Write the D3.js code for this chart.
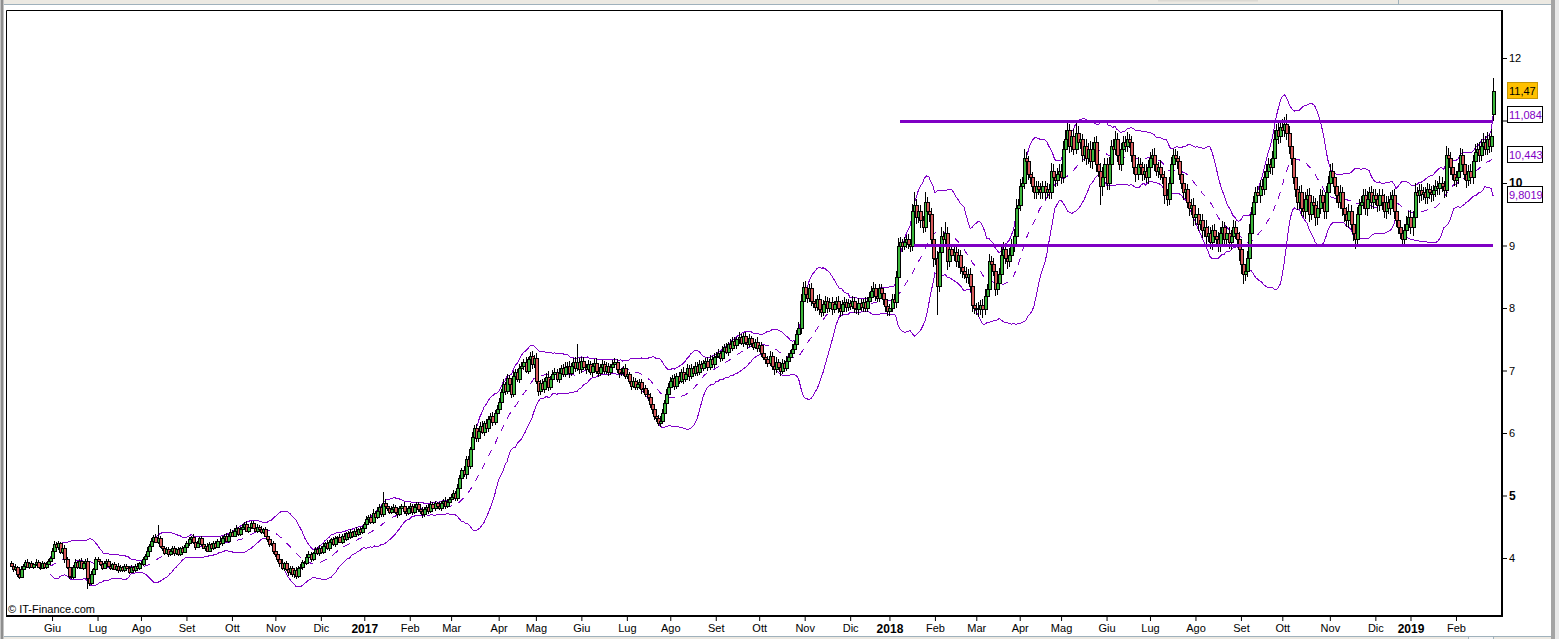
<!DOCTYPE html>
<html><head><meta charset="utf-8">
<script src="https://cdn.jsdelivr.net/npm/d3@7"></script>
<style>
html,body{margin:0;padding:0;background:#fff;overflow:hidden;}
svg{display:block;font-family:"Liberation Sans",Arial,sans-serif;}
</style></head><body>
<svg id="c" width="1559" height="639"></svg>
<script>
// ---------------- DATA ----------------
const startDate = "2016-05-04", endDate = "2019-02-27";
const holidays = ["2016-08-15","2016-12-26","2017-04-14","2017-04-17","2017-05-01","2017-08-15","2017-12-25","2017-12-26",
  "2018-01-01","2018-03-30","2018-04-02","2018-05-01","2018-08-15","2018-12-24","2018-12-25","2018-12-26","2018-12-31","2019-01-01"];
const monthNames = ["Gen","Feb","Mar","Apr","Mag","Giu","Lug","Ago","Set","Ott","Nov","Dic"];

// daily closes (one row per month)
const closes = [
3.88,3.82,3.86,3.74,3.70,3.82,3.88,3.94,3.86,3.92,3.86,3.90,3.94,3.86,3.84,3.92,3.86,3.90,3.95,4.00,
4.12,4.22,4.18,4.24,4.10,4.16,3.98,3.86,3.72,3.70,3.86,3.94,3.86,3.95,3.84,3.92,3.96,3.68,3.60,3.74,3.82,3.98,
3.96,3.90,3.84,3.92,3.96,3.88,3.84,3.90,3.82,3.88,3.80,3.86,3.80,3.88,3.84,3.78,3.86,3.80,3.88,3.84,3.92,
3.90,3.98,4.04,4.12,4.20,4.28,4.34,4.26,4.32,4.20,4.16,4.08,4.14,4.06,4.12,4.16,4.08,4.14,4.06,4.16,4.10,4.18,
4.24,4.30,4.34,4.26,4.18,4.24,4.32,4.22,4.16,4.20,4.12,4.22,4.16,4.24,4.18,4.28,4.24,4.32,4.36,4.28,4.36,4.42,
4.36,4.44,4.48,4.38,4.46,4.50,4.54,4.44,4.50,4.56,4.48,4.44,4.50,4.46,4.42,4.46,4.36,4.30,4.22,4.24,4.12,
4.06,3.98,3.92,3.84,3.92,3.82,3.78,3.84,3.74,3.80,3.72,3.84,3.86,3.94,3.92,4.02,4.06,3.98,4.08,4.14,4.08,4.16,
4.10,4.20,4.24,4.16,4.26,4.30,4.22,4.32,4.34,4.26,4.36,4.30,4.40,4.34,4.42,4.36,4.44,4.38,4.46,4.42,4.48,
4.54,4.62,4.66,4.58,4.72,4.66,4.76,4.82,4.70,4.88,4.84,4.80,4.74,4.78,4.82,4.74,4.70,4.80,4.84,4.76,4.72,4.80,
4.84,4.74,4.82,4.86,4.78,4.76,4.70,4.78,4.82,4.76,4.86,4.80,4.88,4.84,4.80,4.88,4.92,4.84,4.90,4.94,
4.98,5.04,4.96,5.12,5.28,5.40,5.34,5.58,5.48,5.74,5.94,6.08,5.92,6.04,6.12,6.02,6.16,6.08,6.22,6.28,6.18,6.32,6.38,
6.50,6.66,6.78,6.68,6.88,6.78,6.62,6.92,6.98,6.86,7.04,7.08,7.14,7.00,7.18,7.24,7.10,7.20,
6.84,6.68,6.80,6.70,6.84,6.90,6.74,6.86,6.94,6.98,6.86,6.96,7.04,6.94,7.06,7.08,6.96,7.08,7.14,7.04,7.14,7.02,
7.16,7.06,7.02,7.10,6.98,7.08,7.12,7.00,6.96,7.06,7.10,7.00,7.08,6.98,7.06,7.10,7.14,7.02,6.96,6.98,7.04,6.92,
6.94,6.84,6.76,6.84,6.74,6.78,6.82,6.70,6.72,6.62,6.58,6.46,6.38,6.28,6.24,6.16,6.20,6.32,6.48,6.62,6.74,
6.84,6.88,6.76,6.92,6.84,6.98,6.86,6.94,7.04,6.92,7.04,6.96,7.08,6.98,7.10,7.04,7.12,7.16,7.06,7.18,7.10,7.22,
7.24,7.28,7.20,7.32,7.38,7.30,7.42,7.36,7.48,7.40,7.50,7.54,7.44,7.56,7.46,7.42,7.52,7.44,7.38,7.46,7.36,
7.40,7.28,7.22,7.18,7.12,7.24,7.08,7.02,7.14,7.06,7.00,7.12,7.04,7.16,7.22,7.28,7.34,7.42,7.58,7.68,8.12,8.34,
8.22,8.16,8.32,8.12,8.08,8.02,8.14,7.98,7.94,8.06,8.12,8.00,8.10,7.98,8.06,8.12,8.00,7.96,8.06,8.10,8.02,8.08,
8.04,8.12,8.00,7.98,8.08,8.02,8.10,8.00,8.12,8.18,8.28,8.32,8.20,8.16,8.32,8.24,8.14,8.04,7.96,
8.00,8.15,8.10,8.50,9.00,9.05,9.00,9.05,9.10,9.02,9.00,9.55,9.65,9.45,9.55,9.40,9.30,9.70,9.55,9.50,9.10,8.80,
8.80,8.35,8.90,9.15,9.10,9.20,8.75,8.95,8.85,8.90,8.75,8.85,8.65,8.60,8.55,8.50,8.55,8.35,8.05,8.00,
8.00,7.98,8.05,7.98,8.20,8.30,8.75,8.70,8.60,8.30,8.40,8.55,8.85,8.95,8.80,8.75,8.85,9.00,9.15,9.60,9.65,
9.95,10.00,10.40,10.35,10.15,10.10,9.95,9.85,9.95,9.90,9.85,9.95,9.85,9.90,9.85,10.20,10.10,10.05,10.15,10.20,
10.10,10.55,10.70,10.85,10.60,10.75,10.55,10.80,10.65,10.70,10.45,10.60,10.40,10.55,10.35,10.55,10.65,10.30,10.20,9.95,10.10,10.30,
10.00,10.30,10.60,10.55,10.70,10.45,10.30,10.55,10.65,10.60,10.70,10.65,10.45,10.25,10.15,10.30,10.25,10.15,10.20,10.10,10.25,
10.40,10.45,10.30,10.20,10.25,10.15,10.10,9.80,9.75,10.00,10.30,10.45,10.40,10.35,10.15,10.00,9.85,9.90,9.70,9.60,9.65,9.45,
9.50,9.35,9.40,9.25,9.30,9.15,9.20,9.05,9.25,9.15,9.10,9.00,9.20,9.30,9.10,9.20,9.05,9.15,9.30,9.20,9.10,8.95,
8.70,8.55,8.60,8.80,9.20,9.50,9.70,9.85,9.80,9.95,9.90,10.10,10.20,10.30,10.25,10.40,10.70,10.85,10.75,10.90,
10.85,10.95,10.80,10.60,10.40,10.10,9.90,9.70,9.85,9.60,9.55,9.75,9.80,9.50,9.70,9.65,9.45,9.60,9.80,9.70,9.55,9.85,10.00,
10.20,10.10,9.95,9.80,9.70,9.85,9.60,9.50,9.40,9.55,9.35,9.20,9.10,9.50,9.65,9.70,9.80,9.60,9.75,9.85,9.70,9.80,
9.75,9.65,9.80,9.70,9.55,9.70,9.60,9.75,9.80,9.55,9.40,9.30,9.20,9.10,9.25,9.35,9.45,
9.30,9.45,9.85,9.80,9.88,9.82,9.85,9.78,9.90,9.85,9.82,9.88,9.95,9.92,10.00,9.95,9.88,10.45,10.40,10.25,10.15,10.05,
10.10,10.20,10.45,10.30,10.15,10.05,10.20,10.10,10.35,10.50,10.55,10.45,10.60,10.65,10.55,10.70,10.60,10.75,11.47
];
// opens that gap away from the previous close
const openOverrides = [["2019-02-27", 11.10]];
// upper shadow above body, in hundredths
const wickUp = [
3,2,4,2,3,5,2,3,4,2,3,2,4,3,2,3,2,4,3,2,
4,5,3,4,2,3,5,3,4,2,3,4,2,3,5,2,3,4,3,5,2,4,
3,2,4,3,2,3,4,2,3,2,4,3,2,3,2,4,3,2,3,4,2,
3,4,2,5,3,4,3,5,21,4,3,2,4,3,2,3,4,2,3,2,4,3,
4,3,2,5,3,4,2,3,5,2,4,3,2,4,3,2,5,3,2,4,3,4,
3,4,5,2,3,4,3,5,2,4,3,2,4,3,5,2,3,4,3,2,4,
5,4,3,6,2,4,5,3,4,2,5,3,4,3,2,4,5,3,2,4,3,5,
3,4,2,5,3,2,4,3,2,5,3,4,2,3,4,2,3,5,2,3,4,
4,5,3,4,6,3,5,4,3,17,6,4,3,5,4,3,5,4,3,6,4,3,
4,3,5,4,3,2,5,4,3,4,5,3,4,2,5,4,3,5,4,3,
4,5,3,6,5,4,8,5,6,4,7,5,6,4,5,7,4,6,5,4,6,5,7,
6,5,8,4,7,5,6,8,5,4,7,6,5,8,4,6,7,5,
8,6,5,7,4,6,9,5,7,6,4,8,5,6,7,5,8,4,6,7,28,6,
5,6,4,7,5,4,6,8,5,4,7,5,6,4,5,7,6,4,5,6,4,7,
5,4,6,5,4,7,5,4,6,5,7,6,5,8,6,5,7,6,5,8,6,
6,5,7,4,6,5,8,4,6,5,7,4,6,5,7,6,5,4,6,7,5,6,
5,6,4,7,5,6,4,8,5,6,4,7,5,4,6,5,7,4,6,5,7,
6,5,7,4,6,8,5,6,7,5,4,6,5,7,6,5,8,6,7,9,10,8,
9,7,6,8,5,7,6,8,5,6,7,5,6,8,5,6,7,5,6,8,5,6,
5,7,6,5,8,6,5,7,6,8,7,9,6,5,7,6,8,5,7,
6,8,7,10,12,8,6,9,7,8,6,12,20,9,8,10,7,15,8,9,10,8,
9,12,10,15,8,17,9,10,8,11,9,10,8,9,7,10,8,9,11,8,
8,10,7,9,11,8,12,9,10,8,11,9,12,10,8,9,11,10,12,15,10,
12,10,15,10,9,11,8,10,9,8,10,9,8,10,9,12,10,8,9,10,
10,12,15,12,10,9,11,20,12,10,9,11,10,9,12,10,9,11,10,12,15,10,
10,12,9,11,13,10,12,9,11,10,12,9,10,11,9,12,10,9,11,10,12,
10,9,11,10,8,12,10,9,11,10,12,9,10,11,9,10,12,9,8,10,9,11,
9,10,8,11,9,10,12,9,8,10,9,11,10,9,8,12,9,10,11,9,10,12,
12,10,9,11,15,12,10,9,11,10,12,9,11,10,9,12,15,10,12,11,
12,10,15,11,10,12,9,11,10,12,9,11,10,12,9,10,11,12,10,9,11,10,12,
10,12,9,11,10,12,9,10,11,12,9,10,11,12,10,9,11,10,12,9,10,11,
10,9,11,10,12,9,10,11,9,10,12,9,11,10,9,12,10,
12,10,15,9,11,10,9,8,10,9,11,8,10,9,12,10,9,15,11,10,12,9,
10,12,11,9,10,12,9,11,10,12,9,10,11,15,10,12,9,11,21
];
// lower shadow below body, in hundredths
const wickDown = [
2,4,3,5,3,2,3,4,2,3,2,4,3,2,3,2,3,4,2,3,
3,4,2,5,3,4,6,4,5,3,4,2,3,4,2,3,4,18,5,4,3,2,
2,3,4,2,3,2,4,3,2,3,4,2,3,2,4,3,2,3,2,4,3,
3,2,4,3,2,4,3,2,3,4,5,3,2,4,3,2,4,3,2,3,4,2,
3,4,2,3,5,2,4,3,2,4,3,2,5,3,4,2,3,4,2,3,4,3,
2,3,4,3,2,4,3,2,4,3,2,3,4,2,3,4,3,5,4,3,5,
4,5,6,4,5,3,6,5,4,6,5,4,3,5,4,3,4,5,3,4,3,4,
3,4,2,3,4,3,2,4,3,2,4,3,2,3,4,2,3,4,3,2,3,
4,3,5,4,3,5,4,6,5,4,3,5,4,3,5,4,6,3,4,5,4,3,
3,5,4,3,4,5,6,4,3,5,4,3,4,5,3,4,3,5,4,3,
4,3,5,4,6,5,4,7,5,6,8,5,7,6,5,4,6,5,7,4,6,5,4,
5,6,4,7,5,8,6,5,7,4,6,5,7,4,6,5,8,6,
6,8,7,5,6,4,7,5,6,8,5,6,7,5,4,6,8,5,7,6,5,8,
6,5,7,4,6,8,5,6,7,5,4,6,5,7,6,5,4,6,8,5,7,6,
6,5,7,4,6,5,7,8,6,5,7,6,8,7,6,5,6,5,4,6,5,
5,6,7,5,6,4,7,5,6,8,5,6,4,7,5,6,5,7,6,5,4,6,
5,4,6,5,7,4,6,5,4,6,5,7,4,6,5,7,4,6,5,4,6,
6,7,5,8,6,5,7,9,6,5,8,6,7,5,6,7,5,6,8,7,9,10,
10,8,7,9,8,6,7,9,8,7,6,8,7,9,6,7,8,10,7,6,8,7,
7,6,8,7,9,6,8,7,6,8,7,9,8,6,7,8,9,10,8,
9,7,8,10,9,8,10,7,9,8,10,9,11,10,9,12,10,9,11,12,10,15,
12,46,10,9,11,10,14,9,11,10,9,11,10,12,9,10,11,9,12,10,
11,12,10,14,9,11,10,12,9,11,10,12,9,11,10,12,9,10,11,10,12,
10,12,9,11,10,12,9,11,10,9,11,10,12,9,10,11,9,12,10,11,
12,10,11,9,12,10,11,9,12,10,11,9,12,10,11,13,10,12,11,30,15,12,
11,12,10,13,11,12,10,11,12,10,11,9,12,10,13,11,10,12,11,10,12,
12,10,11,9,12,10,11,13,12,10,9,11,10,12,11,10,12,11,10,12,11,13,
12,11,10,13,11,12,10,11,12,10,13,11,10,12,11,13,10,12,11,10,12,20,
15,17,12,11,13,10,12,11,10,12,11,10,12,11,10,12,11,10,12,11,
10,12,11,13,12,11,12,13,11,12,10,13,11,12,10,11,13,12,10,11,12,13,11,
12,11,13,12,10,11,12,13,11,12,10,13,15,12,11,10,12,11,13,10,12,11,
11,12,10,13,11,12,10,11,12,13,11,12,10,13,12,11,10,
12,15,11,10,12,11,10,12,11,10,12,11,10,12,11,10,12,11,13,12,11,10,
11,12,10,12,11,13,10,12,11,10,12,11,10,12,11,10,12,11,10
];
// horizontal support / resistance levels
const levelValues = [10.98, 9.0];
const levelStarts = ["2018-01-09", "2018-01-18"];
// price boxes on the right
const boxValues = [11.47, 11.084, 10.443, 9.8019];
const boxTexts  = ["11,47", "11,084", "10,443", "9,8019"];
const yTicks = [4,5,6,7,8,9,10,11,12];
const yTickTexts = ["4","5","6","7","8","9","10","","12"];
const bbPeriod = 20;

// ---------------- CHART ----------------
const svg = d3.select("#c");
const W = 1559, H = 639;
const plot = {l: 6, t: 10, r: 1502, b: 616};
const colBand = "#8000c8", colLevel = "#7f00c4";

const parse = d3.timeParse("%Y-%m-%d"), fmt = d3.timeFormat("%Y-%m-%d");
const hol = new Set(holidays);
const days = [];
for (let d = parse(startDate); d <= parse(endDate); d = d3.timeDay.offset(d, 1)) {
  const wd = d.getDay();
  if (wd === 0 || wd === 6 || hol.has(fmt(d))) continue;
  days.push(new Date(d));
}
const N = Math.min(days.length, closes.length);
const openMap = new Map(openOverrides);

const data = [];
for (let i = 0; i < N; i++) {
  const key = fmt(days[i]);
  const c = closes[i];
  const o = openMap.has(key) ? openMap.get(key) : (i > 0 ? closes[i - 1] : closes[0] + 0.04);
  data.push({i, date: days[i], o, c,
    h: Math.max(o, c) + wickUp[i] / 100,
    l: Math.min(o, c) - wickDown[i] / 100});
}

const x = d3.scaleLinear().domain([0, 717]).range([10.7, 1493.2]);
const y = d3.scaleLinear().domain([4, 12]).range([558, 58]);

// window chrome
svg.append("rect").attr("width", W).attr("height", H).attr("fill", "#fff");
svg.append("rect").attr("x", 0).attr("y", 0).attr("width", W).attr("height", 5).attr("fill", "#ece9e2");
svg.append("rect").attr("x", 1158).attr("y", 0).attr("width", 100).attr("height", 1.5).attr("fill", "#dcdad4");
svg.append("line").attr("x1", 0).attr("x2", 1552).attr("y1", 4.5).attr("y2", 4.5).attr("stroke", "#9fb1bc");
svg.append("line").attr("x1", 1398.5).attr("x2", 1398.5).attr("y1", 0).attr("y2", 5).attr("stroke", "#9fb1bc");
svg.append("rect").attr("x", 0).attr("y", 0).attr("width", 4).attr("height", H).attr("fill", "#c4c4c4");
svg.append("rect").attr("x", 1).attr("y", 0).attr("width", 2).attr("height", H).attr("fill", "#8e8e8e");
svg.append("rect").attr("x", 1551).attr("y", 0).attr("width", 4).attr("height", H).attr("fill", "#a4a4a4");
svg.append("rect").attr("x", 1555).attr("y", 0).attr("width", 4).attr("height", H).attr("fill", "#e8e8e8");
svg.append("rect").attr("x", 4).attr("y", 636).attr("width", 1547).attr("height", 3).attr("fill", "#ece9e2");
svg.append("line").attr("x1", 4).attr("x2", 1551).attr("y1", 636.5).attr("y2", 636.5).attr("stroke", "#9fb1bc");
svg.append("rect").attr("x", 1468.5).attr("y", 636.5).attr("width", 25).attr("height", 4).attr("fill", "#f4f4f4").attr("stroke", "#9fb1bc");

// clip
svg.append("clipPath").attr("id", "pc").append("rect")
  .attr("x", plot.l + 1).attr("y", plot.t + 1).attr("width", plot.r - plot.l - 1).attr("height", plot.b - plot.t - 1);
const g = svg.append("g").attr("clip-path", "url(#pc)");

// Bollinger bands (20, 2)
const bb = [];
for (let i = bbPeriod - 1; i < N; i++) {
  const w = closes.slice(i - bbPeriod + 1, i + 1);
  const m = d3.mean(w);
  const sd = Math.sqrt(d3.mean(w, v => (v - m) * (v - m)));
  bb.push({i, m, u: m + 2 * sd, d: m - 2 * sd});
}
const ln = key => d3.line().x(d => x(d.i)).y(d => y(d[key]));
["u", "d"].forEach(k => g.append("path").datum(bb).attr("d", ln(k)).attr("fill", "none")
  .attr("stroke", colBand).attr("stroke-width", 1).attr("shape-rendering", "crispEdges"));
g.append("path").datum(bb).attr("d", ln("m")).attr("fill", "none").attr("stroke", colBand).attr("stroke-width", 1)
  .attr("stroke-dasharray", "7,7").attr("shape-rendering", "crispEdges");

// candles
const cg = g.append("g").attr("shape-rendering", "crispEdges");
data.forEach(d => {
  const cx = Math.round(x(d.i));
  cg.append("line").attr("x1", cx + 0.5).attr("x2", cx + 0.5)
    .attr("y1", Math.round(y(d.h))).attr("y2", Math.round(y(d.l)))
    .attr("stroke", "#000").attr("stroke-width", 1);
  const top = Math.round(y(Math.max(d.o, d.c))), bot = Math.round(y(Math.min(d.o, d.c)));
  const hgt = Math.max(bot - top, 1);
  cg.append("rect").attr("x", cx - 1 + 0.5).attr("y", top + 0.5)
    .attr("width", 3).attr("height", hgt)
    .attr("fill", d.c >= d.o ? "#3cb83c" : "#d85a5a")
    .attr("stroke", "#000").attr("stroke-width", 1);
});

// level lines
levelValues.forEach((v, k) => {
  const si = days.findIndex(d => fmt(d) >= levelStarts[k]);
  g.append("line").attr("x1", x(si)).attr("x2", x(N - 1))
    .attr("y1", y(v)).attr("y2", y(v))
    .attr("stroke", colLevel).attr("stroke-width", 3).attr("shape-rendering", "crispEdges");
});

// frame
svg.append("path").attr("d", `M${plot.l + 0.5},${plot.b}V${plot.t + 0.5}H${plot.r}`)
  .attr("fill", "none").attr("stroke", "#000").attr("stroke-width", 1);
svg.append("rect").attr("x", plot.r - 1).attr("y", plot.t).attr("width", 2).attr("height", plot.b - plot.t + 1).attr("fill", "#000");
svg.append("rect").attr("x", plot.l).attr("y", plot.b - 1).attr("width", plot.r - plot.l + 1).attr("height", 2).attr("fill", "#000");

// y axis
const yAxis = d3.axisRight(y).tickValues(yTicks).tickSize(4).tickPadding(2)
  .tickFormat((v, k) => yTickTexts[k]);
const ya = svg.append("g").attr("transform", `translate(${plot.r + 1},0)`).call(yAxis);
ya.select(".domain").remove();
ya.selectAll(".tick line").attr("stroke", "#000");
ya.selectAll(".tick text").attr("fill", "#000")
  .style("font-family", '"Liberation Sans",Arial,sans-serif')
  .style("font-size", v => (v % 5 === 0 ? "12px" : "11px"))
  .style("font-weight", v => (v % 5 === 0 ? "bold" : "normal"));

// x axis: first trading day of every month
const monthStarts = [];
for (let i = 1; i < N; i++) if (days[i].getMonth() !== days[i - 1].getMonth()) monthStarts.push(i);
const xAxis = d3.axisBottom(x).tickValues(monthStarts).tickSize(4).tickPadding(3)
  .tickFormat(i => days[i].getMonth() === 0 ? String(days[i].getFullYear()) : monthNames[days[i].getMonth()]);
const xa = svg.append("g").attr("transform", `translate(0,${plot.b + 1})`).call(xAxis);
xa.select(".domain").remove();
xa.selectAll(".tick line").attr("stroke", "#000");
xa.selectAll(".tick text").attr("fill", "#000")
  .style("font-family", '"Liberation Sans",Arial,sans-serif')
  .style("font-size", i => days[i].getMonth() === 0 ? "12px" : "11px")
  .style("font-weight", i => days[i].getMonth() === 0 ? "bold" : "normal");

// value boxes
boxValues.forEach((v, k) => {
  const yy = Math.round(y(v));
  const wBox = k === 0 ? 30 : 35;
  svg.append("rect").attr("x", 1507.5).attr("y", yy - 8.5).attr("width", wBox).attr("height", 16)
    .attr("fill", k === 0 ? "#ffc000" : "#fff").attr("stroke", k === 0 ? "#c89600" : "#000");
  svg.append("text").attr("x", 1509).attr("y", yy + 4).text(boxTexts[k])
    .attr("fill", k === 0 ? "#000" : "#7f00c4").style("font-size", "11px");
});

// copyright
svg.append("text").attr("x", 8).attr("y", 613).text("\u00A9 IT-Finance.com")
  .attr("fill", "#000").style("font-size", "11px");
</script>
</body></html>
